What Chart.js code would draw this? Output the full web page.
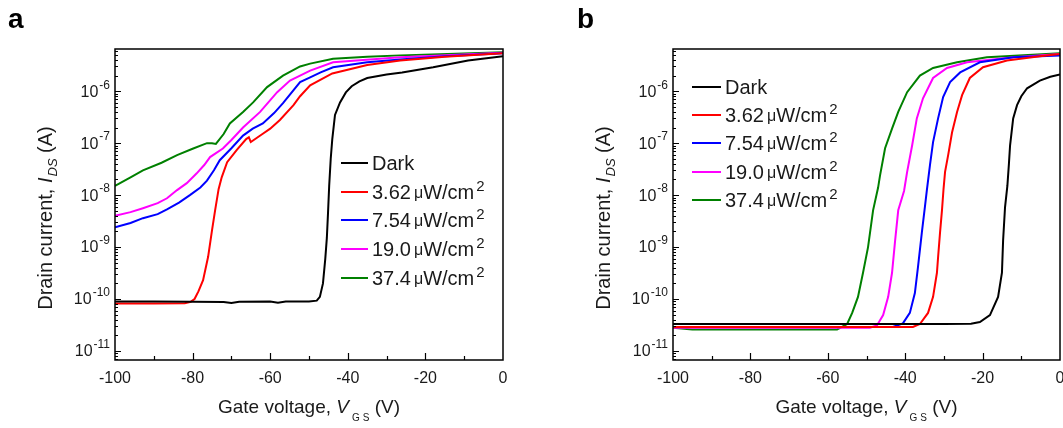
<!DOCTYPE html>
<html>
<head>
<meta charset="utf-8">
<script src="https://cdn.jsdelivr.net/npm/chart.js@4"></script>
<style>
  body { margin: 0; background: #fff; width: 1063px; height: 428px; overflow: hidden; position: relative; }
  canvas { position: absolute; top: 0; }
  #chartA { left: 0; }
  #chartB { left: 540px; }
</style>
</head>
<body>
<canvas id="chartA" width="540" height="428"></canvas>
<canvas id="chartB" width="523" height="428"></canvas>
<script>
// series names / colours
const names = ['Dark', '3.62', '7.54', '19.0', '37.4'];
const colors = ['#000000', '#ff0000', '#0000ff', '#ff00ff', '#008000'];
const yDecades = [-11, -10, -9, -8, -7, -6];

// panel a : [V_GS (V), I_DS (A)]
const aDark = [[-100, 9e-11], [-90, 9e-11], [-80, 8.9e-11], [-72, 8.8e-11], [-70, 8.4e-11], [-68, 8.9e-11],
  [-60, 9e-11], [-58, 8.5e-11], [-56, 9e-11], [-50, 9e-11], [-48, 9.3e-11], [-47.2, 1.1e-10], [-46.4, 2e-10],
  [-45.8, 6e-10], [-45.4, 1.5e-9], [-45.1, 4.5e-9], [-44.8, 1.5e-8], [-44.4, 5e-8], [-44.0, 1.2e-7],
  [-43.3, 3.5e-7], [-42, 6.1e-7], [-40.5, 9.5e-7], [-39, 1.25e-6], [-37, 1.55e-6], [-35, 1.8e-6],
  [-30, 2.1e-6], [-26, 2.3e-6], [-18, 2.9e-6], [-9, 3.9e-6], [0, 4.7e-6]];
const aRed = [[-100, 8.2e-11], [-90, 8.2e-11], [-82, 8.3e-11], [-80.5, 8.8e-11], [-79.5, 1e-10], [-78.5, 1.4e-10],
  [-77.3, 2.3e-10], [-76, 6.5e-10], [-75, 2.1e-9], [-74.2, 5.1e-9], [-73.3, 1.3e-8], [-72.5, 2.2e-8],
  [-71.1, 4.3e-8], [-68.6, 7.4e-8], [-66.2, 1.2e-7], [-65.5, 1.3e-7], [-65, 1.05e-7], [-62, 1.5e-7],
  [-60, 1.9e-7], [-57.5, 2.8e-7], [-54, 5.4e-7], [-52.3, 8e-7], [-49.7, 1.3e-6], [-44, 2.2e-6],
  [-35, 3.2e-6], [-26.5, 3.9e-6], [-15, 4.6e-6], [0, 5.4e-6]];
const aBlue = [[-100, 2.4e-9], [-96, 2.9e-9], [-92.8, 3.6e-9], [-89, 4.3e-9], [-86.6, 5.3e-9], [-83.5, 7.2e-9],
  [-80.7, 1.0e-8], [-78, 1.4e-8], [-76.3, 1.9e-8], [-74.5, 3e-8], [-73, 4.7e-8], [-70, 8e-8], [-67, 1.4e-7],
  [-64.5, 1.9e-7], [-61.9, 2.4e-7], [-59, 3.8e-7], [-56.7, 5.9e-7], [-52.3, 1.5e-6], [-49.7, 1.85e-6],
  [-47, 2.3e-6], [-43.8, 2.9e-6], [-35, 3.6e-6], [-26.5, 4.1e-6], [-15, 4.7e-6], [0, 5.4e-6]];
const aMag = [[-100, 4.0e-9], [-96, 4.7e-9], [-92.8, 5.6e-9], [-89, 7e-9], [-86.6, 8.7e-9], [-84, 1.25e-8],
  [-81.5, 1.7e-8], [-79, 2.6e-8], [-77, 3.8e-8], [-75.5, 5.4e-8], [-72.2, 7.9e-8], [-70, 1.15e-7],
  [-67, 2.0e-7], [-62.6, 4.0e-7], [-58.2, 9.6e-7], [-54.9, 1.6e-6], [-49.7, 2.5e-6], [-43.8, 3.6e-6],
  [-26.5, 4.5e-6], [0, 5.5e-6]];
const aGreen = [[-100, 1.5e-8], [-96, 2.2e-8], [-92.8, 3e-8], [-88, 4.2e-8], [-84, 5.9e-8], [-80, 7.8e-8],
  [-76.3, 1.0e-7], [-75, 1.0e-7], [-74, 9.7e-8], [-72, 1.5e-7], [-70.4, 2.4e-7], [-67, 4e-7],
  [-64.4, 6.1e-7], [-60.8, 1.2e-6], [-56.7, 2.0e-6], [-52.3, 3.0e-6], [-49.7, 3.4e-6], [-43.8, 4.2e-6],
  [-35, 4.6e-6], [-26.5, 4.9e-6], [0, 5.6e-6]];

// panel b
const bDark = [[-100, 3.3e-11], [-85, 3.3e-11], [-70, 3.3e-11], [-50, 3.3e-11], [-30, 3.3e-11], [-23, 3.35e-11],
  [-20.7, 3.6e-11], [-18.1, 4.9e-11], [-16, 1.1e-10], [-15, 3.2e-10], [-14.7, 1.35e-9], [-14.2, 5.9e-9],
  [-13.6, 1.5e-8], [-13.2, 4e-8], [-12.9, 9.1e-8], [-12.1, 3.0e-7], [-11.1, 5.4e-7], [-10, 8e-7],
  [-8.5, 1.14e-6], [-5.2, 1.6e-6], [-2.5, 1.9e-6], [0, 2.1e-6]];
const bRed = [[-100, 2.9e-11], [-60, 2.9e-11], [-38, 2.9e-11], [-36.2, 3.3e-11], [-34.1, 5.4e-11],
  [-32.8, 1.1e-10], [-31.8, 3.2e-10], [-31.5, 6.4e-10], [-31, 1.9e-9], [-30.5, 5.1e-9], [-30.1, 1.3e-8],
  [-29.7, 2.8e-8], [-28.9, 5.9e-8], [-27.9, 1.6e-7], [-26.6, 4e-7], [-25.3, 8.4e-7], [-23.3, 1.8e-6],
  [-19.9, 2.9e-6], [-13.7, 3.9e-6], [-5.2, 4.7e-6], [0, 5.2e-6]];
const bBlue = [[-100, 2.9e-11], [-60, 2.9e-11], [-43.2, 2.9e-11], [-40.6, 3.4e-11], [-38.8, 5.4e-11],
  [-37.5, 1.3e-10], [-36.7, 4.1e-10], [-35.7, 1.9e-9], [-34.9, 6e-9], [-34.4, 1.25e-8], [-33.6, 3.8e-8],
  [-32.8, 1.05e-7], [-31.5, 3e-7], [-30.2, 7.7e-7], [-28.4, 1.5e-6], [-25.8, 2.3e-6], [-20.7, 3.6e-6],
  [-12, 4.5e-6], [0, 4.9e-6]];
const bMag = [[-100, 2.8e-11], [-70, 2.8e-11], [-49.1, 2.8e-11], [-47.3, 3.1e-11], [-45.7, 4.9e-11],
  [-44.4, 1.1e-10], [-43.4, 3.2e-10], [-42.6, 1.35e-9], [-41.8, 5.1e-9], [-40.3, 1.2e-8], [-39.5, 2.8e-8],
  [-38.2, 9.1e-8], [-37, 3e-7], [-35.4, 7.3e-7], [-32.8, 1.8e-6], [-29.2, 2.8e-6], [-24, 3.6e-6],
  [-12, 4.5e-6], [0, 5.2e-6]];
const bGreen = [[-100, 2.8e-11], [-95, 2.6e-11], [-80, 2.6e-11], [-60, 2.6e-11], [-57.6, 2.6e-11],
  [-55, 3.3e-11], [-53.7, 5.4e-11], [-52.2, 1.1e-10], [-50.9, 3.2e-10], [-49.6, 1e-9], [-48.3, 5.1e-9],
  [-47, 1.4e-8], [-46.5, 2.4e-8], [-45.2, 8e-8], [-43.4, 1.9e-7], [-41.8, 4e-7], [-39.5, 9.6e-7],
  [-36.2, 2.0e-6], [-32.8, 2.8e-6], [-26.6, 3.6e-6], [-18.9, 4.5e-6], [0, 5.4e-6]];

const FONT = '"Liberation Sans", Arial, sans-serif';
const TXT = '#1a1a1a';
Chart.defaults.font.family = FONT;

// draw a row of text pieces starting at x, returns end x
function drawPieces(ctx, pieces, x, y) {
  for (const p of pieces) {
    ctx.font = p.f + ' ' + FONT;
    ctx.fillText(p.t, x, y + (p.dy || 0));
    x += ctx.measureText(p.t).width + (p.gap || 0);
  }
  return x;
}
function piecesWidth(ctx, pieces) {
  let w = 0;
  for (const p of pieces) { ctx.font = p.f + ' ' + FONT; w += ctx.measureText(p.t).width + (p.gap || 0); }
  return w;
}

const decoPlugin = {
  id: 'deco',
  afterDraw(chart, args, o) {
    const ctx = chart.ctx, a = chart.chartArea, xs = chart.scales.x, ys = chart.scales.y;
    ctx.save();
    ctx.strokeStyle = '#000';
    ctx.lineWidth = 1.2;
    ctx.beginPath();
    // log minor / major ticks, inward
    for (let n = -12; n <= -6; n++) {
      for (let k = 1; k <= 9; k++) {
        const v = k * Math.pow(10, n);
        if (v < ys.min || v > ys.max) continue;
        const py = Math.round(ys.getPixelForValue(v)) + 0.5;
        ctx.moveTo(a.left, py);
        ctx.lineTo(a.left + (k === 1 ? 6 : 3), py);
      }
    }
    for (let v = -90; v < 0; v += 10) {
      const px = Math.round(xs.getPixelForValue(v)) + 0.5;
      ctx.moveTo(px, a.bottom);
      ctx.lineTo(px, a.bottom - (v % 20 === 0 ? 7 : 4));
    }
    ctx.stroke();
    ctx.lineWidth = 1.5;
    ctx.strokeRect(a.left, a.top, a.right - a.left, a.bottom - a.top);

    // y tick labels 10^n
    ctx.fillStyle = TXT;
    ctx.textAlign = 'right';
    ctx.textBaseline = 'middle';
    for (const n of yDecades) {
      const py = ys.getPixelForValue(Math.pow(10, n));
      const sup = '-' + (-n);
      ctx.font = '12px ' + FONT;
      const ws = ctx.measureText(sup).width;
      ctx.fillText(sup, a.left - 5, py - 6);
      ctx.font = '16px ' + FONT;
      ctx.fillText('10', a.left - 6 - ws, py + 1);
    }

    // axis titles
    ctx.textAlign = 'left';
    ctx.textBaseline = 'alphabetic';
    const xt = [{ t: 'Gate voltage, ', f: '19px' }, { t: 'V', f: 'italic 19px', gap: 3 },
      { t: 'G', f: '10px', dy: 8, gap: 3 }, { t: 'S', f: '10px', dy: 8 }, { t: ' (V)', f: '19px' }];
    const xw = piecesWidth(ctx, xt);
    drawPieces(ctx, xt, (a.left + a.right) / 2 - xw / 2, 413);

    const yt = [{ t: 'Drain current, ', f: '20px' }, { t: 'I', f: 'italic 20px', gap: 1 },
      { t: 'DS', f: 'italic 13px', dy: 5 }, { t: ' (A)', f: '20px' }];
    const yw = piecesWidth(ctx, yt);
    ctx.save();
    ctx.translate(a.left - 63, 218);
    ctx.rotate(-Math.PI / 2);
    drawPieces(ctx, yt, -yw / 2, 0);
    ctx.restore();

    // panel letter
    ctx.font = 'bold 28px ' + FONT;
    ctx.fillStyle = '#000';
    ctx.fillText(o.letter, o.letterX, 28);

    // legend
    ctx.fillStyle = TXT;
    ctx.textBaseline = 'middle';
    names.forEach((nm, i) => {
      const ry = o.legRows[i];
      ctx.strokeStyle = colors[i];
      ctx.lineWidth = 2;
      ctx.beginPath();
      ctx.moveTo(o.legX0, ry);
      ctx.lineTo(o.legX1, ry);
      ctx.stroke();
      if (i === 0) {
        drawPieces(ctx, [{ t: nm, f: '20px' }], o.legX1 + 4, ry + 1);
      } else {
        drawPieces(ctx, [{ t: nm, f: '20px', gap: 3 }, { t: 'μ', f: '16px', dy: 1 }, { t: 'W/cm', f: '20px', gap: 2 },
          { t: '2', f: '15px', dy: -6 }], o.legX1 + 4, ry + 1);
      }
    });
    ctx.restore();
  }
};

function makeChart(id, series, deco) {
  return new Chart(document.getElementById(id), {
    type: 'line',
    data: {
      datasets: series.map((s, i) => ({
        label: names[i],
        data: s.map(p => ({ x: p[0], y: p[1] })),
        borderColor: colors[i],
        borderWidth: 2,
        pointRadius: 0,
        tension: 0,
        fill: false
      }))
    },
    options: {
      responsive: false,
      animation: false,
      layout: { padding: { left: deco.padL, right: deco.padR, top: 49, bottom: 0 } },
      plugins: { legend: { display: false }, tooltip: { enabled: false }, deco: deco },
      scales: {
        x: {
          type: 'linear', min: -100, max: 0,
          grid: { display: false, drawTicks: false },
          border: { display: false },
          ticks: { stepSize: 20, font: { size: 16 }, color: TXT, padding: 9, maxRotation: 0, autoSkip: false },
          afterFit: s => { s.height = 68; s.paddingLeft = 0; s.paddingRight = 0; }
        },
        y: { type: 'logarithmic', min: 6.7e-12, max: 6.5e-6, display: false }
      }
    },
    plugins: [decoPlugin]
  });
}

makeChart('chartA', [aDark, aRed, aBlue, aMag, aGreen],
  { padL: 115, padR: 37, letter: 'a', letterX: 8, legX0: 341, legX1: 368, legRows: [163, 192, 220, 249, 278] });
makeChart('chartB', [bDark, bRed, bBlue, bMag, bGreen],
  { padL: 133, padR: 3, letter: 'b', letterX: 37, legX0: 152, legX1: 181, legRows: [87, 115, 143, 172, 200] });
</script>
</body>
</html>
